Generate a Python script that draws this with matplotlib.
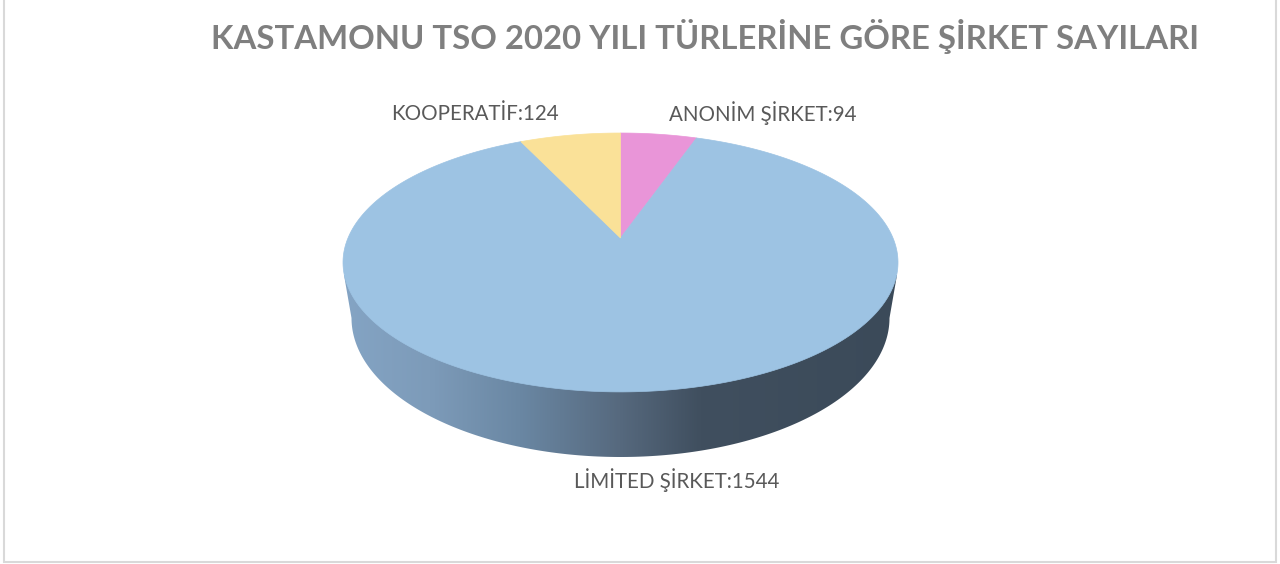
#!/usr/bin/env python
import numpy as np
import matplotlib
matplotlib.use('Agg')
import matplotlib.pyplot as plt
from matplotlib.colors import LinearSegmentedColormap
from matplotlib.patches import Polygon, Rectangle

title = 'KASTAMONU TSO 2020 YILI TÜRLERİNE GÖRE ŞİRKET SAYILARI'
categories = ['ANONİM ŞİRKET', 'LİMİTED ŞİRKET', 'KOOPERATİF']
values = [94, 1544, 124]
colors = ['#e995d8', '#9dc3e3', '#fae198']
side_stops = [0.0, 0.155, 0.318, 0.499, 0.644, 1.0]
side_colors = ['#84a4c4', '#7d9bb9', '#6a87a3', '#56697e', '#404f5f', '#3b4a59']

plt.rcParams['font.family'] = ['Lato', 'DejaVu Sans']


def top_disc(angle):
    # angle runs clockwise from the top of the pie, perspective like the 3D pie
    u = np.sin(angle)
    v = np.cos(angle)
    w = 1 + 0.189 * v
    return 620.5 + 272.5 * u / w, (238 - 79.84 * v) / w


fig = plt.figure(figsize=(12.8, 5.64), dpi=100)
ax = fig.add_axes([0, 0, 1, 1])

# chart frame
ax.add_patch(Rectangle((4, -3), 1272, 565, fill=False, edgecolor='#d9d9d9', linewidth=1.5))

# side of the pie: gradient clipped to the outline
t = np.linspace(np.pi, 0, 200)
rim_x = 620.5 + 269 * np.cos(t)
rim_y = 318 + 139 * np.sin(t)
rim_x = np.concatenate([[344], rim_x, [897]])
rim_y = np.concatenate([[275], rim_y, [275]])
side = Polygon(np.column_stack([rim_x, rim_y]), closed=True, facecolor='none', edgecolor='none')
ax.add_patch(side)
cmap = LinearSegmentedColormap.from_list('side', list(zip(side_stops, side_colors)))
img = ax.imshow(np.linspace(0, 1, 256).reshape(1, -1), cmap=cmap, aspect='auto',
                extent=(344, 897, 460, 260), zorder=1)
img.set_clip_path(side)

ax.set_xlim(0, 1280)
ax.set_ylim(564, 0)
ax.axis('off')

# top of the pie
start = 0
total = sum(values)
for value, color in zip(values, colors):
    a = np.linspace(start, start + value / total, 300) * 2 * np.pi
    x, y = top_disc(a)
    ax.fill(np.concatenate([[620.5], x]), np.concatenate([[238], y]), color=color, linewidth=0.5, zorder=2)
    start += value / total

ax.text(705, 36, title, color='#7f7f7f', fontsize=23.65, fontweight='bold', ha='center', va='center')
label_pos = [(762.5, 113), (676.5, 480), (475, 114)]
for name, value, pos in zip(categories, values, label_pos):
    ax.text(pos[0], pos[1], '%s:%d' % (name, value), color='#595959', fontsize=14.8, ha='center', va='center')

plt.savefig('out.png', dpi=100)
